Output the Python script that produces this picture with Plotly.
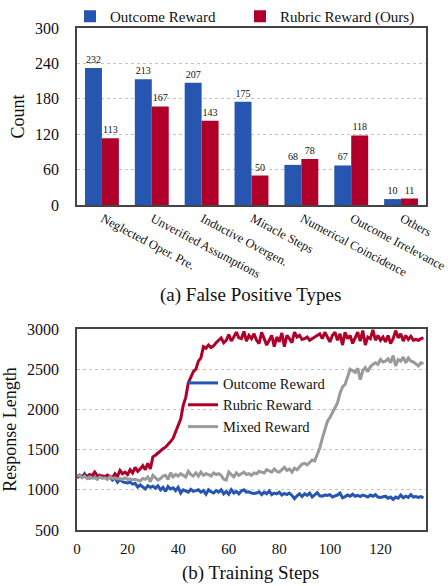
import plotly.graph_objects as go

categories = ["Neglected Oper. Pre.", "Unverified Assumptions", "Inductive Overgen.",
              "Miracle Steps", "Numerical Coincidence", "Outcome Irrelevance", "Others"]
outcome_counts = [232, 213, 207, 175, 68, 67, 10]
rubric_counts = [113, 167, 143, 50, 78, 118, 11]
count_ticks = [0, 60, 120, 180, 240, 300]

steps = list(range(138))
outcome_len = [
    1170, 1185, 1160, 1200, 1150, 1145, 1175, 1160, 1140, 1180,
    1150, 1165, 1135, 1160, 1120, 1150, 1095, 1130, 1100, 1090,
    1085, 1095, 1070, 1080, 1035, 1060, 1040, 1010, 1050, 1030,
    1045, 1020, 1050, 1000, 1030, 980, 1040, 1010, 1025, 990,
    1030, 960, 1000, 985, 970, 1005, 980, 990, 1000, 970,
    990, 945, 1000, 975, 960, 990, 970, 1000, 950, 980,
    945, 1000, 960, 980, 950, 985, 1000, 970, 975, 960,
    955, 960, 975, 940, 970, 950, 985, 940, 960, 950,
    970, 935, 955, 940, 960, 930, 890, 925, 950, 915,
    950, 930, 960, 910, 935, 965, 925, 920, 935, 930,
    940, 910, 925, 935, 960, 900, 915, 935, 920, 945,
    920, 930, 915, 935, 925, 910, 935, 920, 940, 910,
    905, 915, 920, 895, 910, 880, 910, 895, 935, 900,
    920, 905, 940, 910, 915, 905, 915, 900]
rubric_len = [
    1150, 1175, 1160, 1180, 1165, 1190, 1175, 1220, 1180, 1170,
    1175, 1160, 1185, 1170, 1150, 1200, 1165, 1240, 1200, 1220,
    1190, 1250, 1210, 1280, 1230, 1260, 1300, 1250, 1330, 1260,
    1410, 1430, 1460, 1480, 1510, 1530, 1560, 1600, 1640, 1720,
    1800, 1880, 2050, 2150, 2330, 2400, 2470, 2500, 2600, 2640,
    2780, 2760, 2800, 2770, 2790, 2830, 2860, 2890, 2830, 2860,
    2930, 2850, 2900, 2960, 2890, 2880, 2970, 2850, 2920, 2880,
    2940, 2860, 2820, 2960, 2880, 2800, 2860, 2920, 2780, 2900,
    2840, 2950, 2780, 2920, 2880, 2830, 2960, 2900, 2920, 2870,
    2880, 2900, 2860, 2880, 2900, 2910, 2940, 2880, 2960, 2900,
    2840, 2920, 2960, 2860, 2940, 2800, 2960, 2880, 2920, 2820,
    2900, 2960, 2850, 2980, 2800, 2900, 2880, 2990, 2860, 2920,
    2860, 2900, 2840, 2920, 2820, 2880, 2980, 2890, 2940, 2850,
    2920, 2870, 2910, 2860, 2870, 2860, 2880, 2890]
mixed_len = [
    1170, 1180, 1150, 1170, 1140, 1160, 1145, 1150, 1130, 1160,
    1145, 1150, 1130, 1160, 1140, 1150, 1135, 1140, 1130, 1150,
    1130, 1135, 1125, 1130, 1120, 1110, 1140, 1130, 1160, 1100,
    1180, 1150, 1120, 1140, 1170, 1180, 1130, 1210, 1160, 1190,
    1170, 1200, 1180, 1160, 1230, 1190, 1170, 1210, 1170, 1220,
    1180, 1200, 1190, 1170, 1210, 1190, 1200, 1180, 1130, 1120,
    1220, 1190, 1160, 1210, 1180, 1200, 1220, 1190, 1200, 1180,
    1210, 1200, 1230, 1220, 1210, 1250, 1230, 1220, 1260, 1230,
    1220, 1250, 1280, 1240, 1260, 1220, 1270, 1250, 1290, 1320,
    1330, 1310, 1340, 1370, 1360, 1430, 1520, 1640, 1750, 1850,
    1900, 1960, 2000, 2080, 2200, 2280, 2310, 2400, 2500, 2480,
    2460, 2510, 2370, 2480, 2520, 2470, 2530, 2560, 2580, 2560,
    2620, 2590, 2600, 2630, 2580, 2670, 2540, 2620, 2600, 2650,
    2580, 2640, 2600, 2590, 2560, 2540, 2580, 2570]
length_ticks = [500, 1000, 1500, 2000, 2500, 3000]
step_ticks = [0, 20, 40, 60, 80, 100, 120]

BLUE = "#2756b0"
RED = "#b0002a"
GRAY = "#9a9a9a"
FONT = "Liberation Serif, Times New Roman, DejaVu Serif, serif"

W, H = 448, 586


def px(x):
    return x / W


def py(y):
    return 1 - y / H


fig = go.Figure()
fig.add_trace(go.Bar(x=categories, y=outcome_counts, name="Outcome Reward",
                     marker=dict(color=BLUE, line=dict(width=0)),
                     text=[str(v) for v in outcome_counts], textposition="outside",
                     textfont=dict(size=10, color="#111"), cliponaxis=False,
                     constraintext="none", xaxis="x", yaxis="y", legend="legend",
                     showlegend=True))
fig.add_trace(go.Bar(x=categories, y=rubric_counts, name="Rubric Reward (Ours)",
                     marker=dict(color=RED, line=dict(width=0)),
                     text=[str(v) for v in rubric_counts], textposition="outside",
                     textfont=dict(size=10, color="#111"), cliponaxis=False,
                     constraintext="none", xaxis="x", yaxis="y", legend="legend3",
                     showlegend=True))

fig.add_trace(go.Scatter(x=steps, y=outcome_len, name="Outcome Reward", mode="lines",
                         line=dict(color=BLUE, width=3), xaxis="x2", yaxis="y2", legend="legend2"))
fig.add_trace(go.Scatter(x=steps, y=rubric_len, name="Rubric Reward", mode="lines",
                         line=dict(color=RED, width=3), xaxis="x2", yaxis="y2", legend="legend2"))
fig.add_trace(go.Scatter(x=steps, y=mixed_len, name="Mixed Reward", mode="lines",
                         line=dict(color=GRAY, width=3), xaxis="x2", yaxis="y2", legend="legend2"))

xd = [px(77), px(426)]
frame = dict(showline=True, mirror=True, linecolor="#444", linewidth=1.5,
             zeroline=False, automargin=False)
grid = dict(showgrid=True, gridcolor="#c4c4c4", griddash="dot", gridwidth=1)
top_legend = dict(orientation="h", y=1.0, xanchor="left", yanchor="top",
                  font=dict(size=15), bgcolor="rgba(0,0,0,0)")

fig.update_layout(
    width=W, height=H, margin=dict(l=0, r=0, t=0, b=0, autoexpand=False),
    paper_bgcolor="white", plot_bgcolor="white", showlegend=True,
    font=dict(family=FONT, size=15, color="#111"),
    barmode="group", bargap=0.32, bargroupgap=0,
    xaxis=dict(domain=xd, anchor="y", tickangle=28, tickfont=dict(size=12.5),
               ticklabelshift=1,
               range=[-0.5, 6.5], showgrid=False, ticks="", **frame),
    yaxis=dict(domain=[py(205), py(28)], anchor="x", range=[0, 300],
               tickvals=count_ticks, tickfont=dict(size=16), ticks="",
               ticklabelstandoff=13,
               title=dict(text="Count", font=dict(size=18), standoff=6), **grid, **frame),
    xaxis2=dict(domain=xd, anchor="y2", range=[0, 138], tickvals=step_ticks,
                tickfont=dict(size=15), ticks="", showgrid=False,
                ticklabelstandoff=4, **frame),
    yaxis2=dict(domain=[py(530), py(329)], anchor="x2", range=[500, 3000],
                tickvals=length_ticks, tickfont=dict(size=16), ticks="",
                ticklabelstandoff=13,
                title=dict(text="Response Length", font=dict(size=18), standoff=10),
                **grid, **frame),
    legend=dict(x=px(70), visible=True, **top_legend),
    legend3=dict(x=px(240), visible=True, **top_legend),
    legend2=dict(x=px(183), y=py(405), xanchor="left", yanchor="middle",
                 font=dict(size=14.5), bgcolor="rgba(0,0,0,0)", tracegroupgap=0,
                 itemwidth=30, visible=True),
    annotations=[
        dict(text="(a) False Positive Types", x=px(251), y=py(295), xref="paper",
             yref="paper", showarrow=False, font=dict(size=19), xanchor="center",
             yanchor="middle"),
        dict(text="(b) Training Steps", x=px(251), y=py(573), xref="paper",
             yref="paper", showarrow=False, font=dict(size=19), xanchor="center",
             yanchor="middle"),
    ],
)

fig.write_html("out.html", config={"displayModeBar": False},
               post_script="document.body.style.margin='0';document.body.style.padding='0';")
